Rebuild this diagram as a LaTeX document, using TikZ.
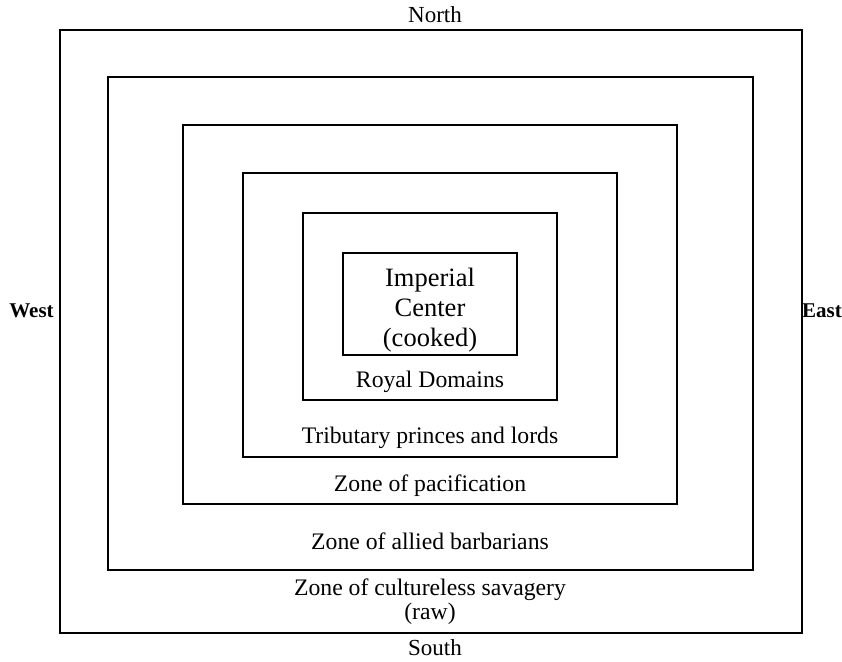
\documentclass[tikz,border=0pt]{standalone}
\usepackage{fontspec}
\setmainfont{Liberation Serif}
\begin{document}
\begin{tikzpicture}[x=1pt,y=-1pt,
  zone/.style={draw=black, line width=1.9pt, inner sep=0pt, outer sep=0pt, rectangle},
  lbl/.style={font=\fontsize{23.7}{28}\selectfont, inner sep=0pt},
  compass/.style={font=\fontsize{23}{24}\selectfont, inner sep=0pt},
  compassb/.style={font=\fontsize{21}{22}\selectfont\bfseries, inner sep=0pt}]
\useasboundingbox (0,0) rectangle (842,661);
\node[zone, minimum width=742pt, minimum height=603pt] (r1) at (431,331.5) {};
\node[zone, minimum width=645pt, minimum height=493pt] (r2) at (430.5,323.5) {};
\node[zone, minimum width=494pt, minimum height=379pt] (r3) at (430,314.5) {};
\node[zone, minimum width=374pt, minimum height=284pt] (r4) at (430,315) {};
\node[zone, minimum width=254pt, minimum height=187pt] (r5) at (430,306.5) {};
\node[zone, minimum width=174pt, minimum height=102pt] (r6) at (430,304) {};
\node[lbl, align=center, font=\fontsize{26.5}{30}\selectfont] (ic) at (430,310) {Imperial\\Center\\(cooked)};
\node[lbl] (rd) at (430,382) {Royal Domains};
\node[lbl] (tp) at (430,438) {Tributary princes and lords};
\node[lbl] (zp) at (430,486) {Zone of pacification};
\node[lbl] (za) at (430,541) {Zone of allied barbarians};
\node[lbl] (zc) at (430,590) {Zone of cultureless savagery};
\node[lbl] (raw) at (430,614) {(raw)};
\node[compass] (n) at (435,15) {North};
\node[compass] (s) at (435,648) {South};
\node[compassb] (w) at (31.5,311) {West};
\node[compassb] (e) at (822,311) {East};
\end{tikzpicture}
\end{document}
